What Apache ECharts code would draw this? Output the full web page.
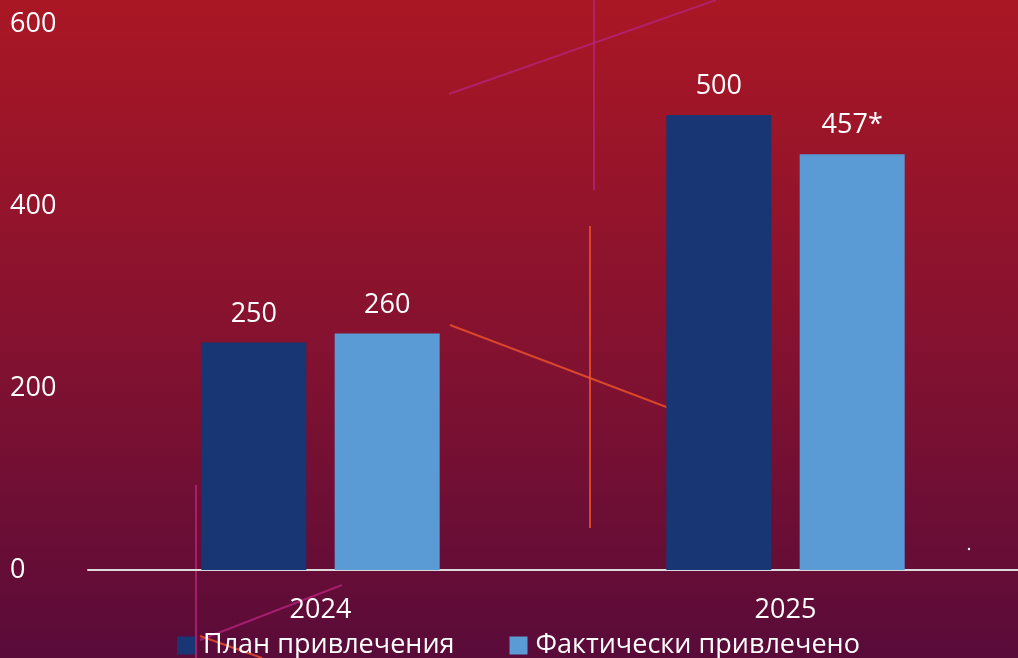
<!DOCTYPE html>
<html><head><meta charset="utf-8">
<script src="https://cdn.jsdelivr.net/npm/echarts@6/dist/echarts.min.js"></script>
<style>html,body{margin:0;padding:0;}#c{width:1018px;height:658px;}</style>
</head><body><div id="c"></div>
<script>
const categories = ['2024', '2025'];
const planValues = [250, 500];
const actualValues = [260, 457];
const actualLabels = ['260', '457*'];
const seriesNames = ['План привлечения', 'Фактически привлечено'];
const yTicks = [0, 200, 400, 600];

const FONT = '"Open Sans", sans-serif';
const chart = echarts.init(document.getElementById('c'), null, {renderer: 'canvas'});
const option = {
  backgroundColor: new echarts.graphic.LinearGradient(0, 0, 0, 1, [
    {offset: 0, color: '#aa1724'},
    {offset: 0.5, color: '#86122f'},
    {offset: 1, color: '#590b39'}
  ]),
  animation: false,
  textStyle: {fontFamily: FONT},
  graphic: [
    {type: 'line', silent: true, z: 0, shape: {x1: 449, y1: 94, x2: 716, y2: 0}, style: {stroke: '#b5237a', lineWidth: 2, opacity: 0.8}},
    {type: 'line', silent: true, z: 0, shape: {x1: 594, y1: 0, x2: 594, y2: 190}, style: {stroke: '#b5237a', lineWidth: 2, opacity: 0.8}},
    {type: 'line', silent: true, z: 0, shape: {x1: 450, y1: 325, x2: 669, y2: 408}, style: {stroke: '#e8502a', lineWidth: 2, opacity: 0.85}},
    {type: 'line', silent: true, z: 0, shape: {x1: 590, y1: 226, x2: 590, y2: 528}, style: {stroke: '#e8502a', lineWidth: 2, opacity: 0.85}},
    {type: 'line', silent: true, z: 0, shape: {x1: 196, y1: 485, x2: 196, y2: 658}, style: {stroke: '#b5237a', lineWidth: 2, opacity: 0.8}},
    {type: 'line', silent: true, z: 0, shape: {x1: 200, y1: 640, x2: 342, y2: 585}, style: {stroke: '#b5237a', lineWidth: 2, opacity: 0.8}},
    {type: 'line', silent: true, z: 0, shape: {x1: 200, y1: 636, x2: 262, y2: 658}, style: {stroke: '#e8502a', lineWidth: 2, opacity: 0.85}},
    {type: 'circle', silent: true, z: 0, shape: {cx: 969, cy: 549, r: 1.2}, style: {fill: '#ffffff'}}
  ],
  grid: {left: 88, width: 934, top: 24, bottom: 88, containLabel: false},
  legend: {
    data: seriesNames,
    bottom: -6,
    left: 172,
    itemWidth: 18,
    itemHeight: 18,
    itemGap: 55,
    icon: 'rect',
    textStyle: {color: '#ffffff', fontSize: 27, fontFamily: FONT, padding: [0, 0, 0, 3]}
  },
  xAxis: {
    type: 'category',
    data: categories,
    axisLine: {lineStyle: {color: '#d9d9d9', width: 2}},
    axisTick: {show: false},
    axisLabel: {color: '#ffffff', fontSize: 27, margin: 27, fontFamily: FONT}
  },
  yAxis: {
    type: 'value',
    min: yTicks[0],
    max: yTicks[yTicks.length - 1],
    interval: 200,
    axisLine: {show: false},
    axisTick: {show: false},
    splitLine: {show: false},
    axisLabel: {color: '#ffffff', fontSize: 27, align: 'left', margin: 78, fontFamily: FONT}
  },
  series: [
    {
      name: seriesNames[0],
      type: 'bar',
      data: planValues,
      barWidth: 105,
      barGap: '27%',
      itemStyle: {color: '#173673'},
      label: {show: true, position: 'top', distance: 15, color: '#ffffff', fontSize: 27, fontFamily: FONT}
    },
    {
      name: seriesNames[1],
      type: 'bar',
      data: actualValues,
      barWidth: 105,
      itemStyle: {color: '#5b9bd5'},
      label: {show: true, position: 'top', distance: 15, color: '#ffffff', fontSize: 27, fontFamily: FONT,
        formatter: p => actualLabels[p.dataIndex]}
    }
  ]
};
chart.setOption(option);
</script></body></html>
